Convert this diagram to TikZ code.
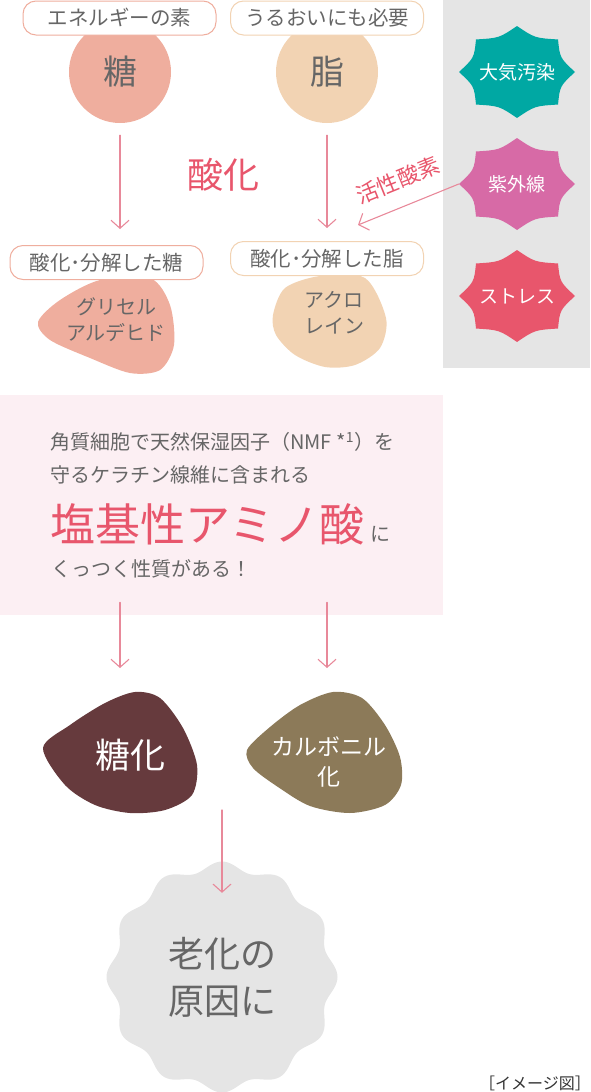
\documentclass[tikz,border=0pt]{standalone}
\usepackage{fontspec}
\setmainfont{Noto Sans CJK JP}
\usepackage{tikz}
\usetikzlibrary{arrows.meta}

\definecolor{sugarcol}{HTML}{EFAE9E}
\definecolor{fatcol}{HTML}{F2D3B3}
\definecolor{txtgray}{HTML}{666666}
\definecolor{oxred}{HTML}{E8566C}
\definecolor{arrpink}{HTML}{E8899A}
\definecolor{panelgray}{HTML}{E5E5E5}
\definecolor{panelpink}{HTML}{FCEFF3}
\definecolor{aircol}{HTML}{00A8A3}
\definecolor{uvcol}{HTML}{D76AA6}
\definecolor{stresscol}{HTML}{E8566C}
\definecolor{tokacol}{HTML}{663A3D}
\definecolor{carbcol}{HTML}{8C7A59}
\definecolor{notegray}{HTML}{333333}

% spiky burst: centre x, centre y, colour
\newcommand{\burst}[3]{%
  \fill[#3] ({#1+58},#2)
    \foreach \a in {45,90,...,360}{
      .. controls ({#1+0.8*58*cos(\a-22.5)},{#2+0.8*46*sin(\a-22.5)}) .. ({#1+58*cos(\a)},{#2+46*sin(\a)})
    } -- cycle;}

\begin{document}
\begin{tikzpicture}[x=1pt,y=-1pt,line cap=round,line join=round,
  arr/.style={draw=arrpink,line width=1.1pt,-{Straight Barb[length=8pt,width=18pt]}},
  tag/.style={draw,rounded corners=13pt,fill=white,line width=1pt,minimum width=193pt,minimum height=34pt,inner sep=0pt,text=txtgray,font=\fontsize{20.5}{24}\selectfont},
  bubble/.style={circle,minimum size=102pt,inner sep=0pt,text=txtgray,font=\fontsize{34}{40}\selectfont},
  blobtxt/.style={align=center,inner sep=0pt,font=\fontsize{20}{26}\selectfont},
  burstnode/.style={minimum width=116pt,minimum height=92pt,inner sep=0pt,text=white,font=\fontsize{19}{22}\selectfont},
  txtline/.style={anchor=west,inner sep=0pt,text=txtgray,font=\fontsize{20}{24}\selectfont}]
\useasboundingbox (0,0) rectangle (590,1092);
\clip (0,0) rectangle (590,1092);

% causes
\fill[panelgray] (443,0) rectangle (590,368);
\burst{517}{72}{aircol}
\burst{517}{184}{uvcol}
\burst{517}{296}{stresscol}
\node[burstnode] (air) at (517,72) {大気汚染};
\node[burstnode] (uv) at (517,184) {紫外線};
\node[burstnode] (stress) at (517,296) {ストレス};

% sugar and fat
\node[bubble,fill=sugarcol] (sugar) at (120,72) {糖};
\node[bubble,fill=fatcol] (fat) at (327,72) {脂};
\node[tag,draw=sugarcol] (sugarTag) at (119.5,18) {エネルギーの素};
\node[tag,draw=fatcol] (fatTag) at (327,18) {うるおいにも必要};

\node[text=oxred,inner sep=0pt,font=\fontsize{36}{40}\selectfont] (ox) at (223,175) {酸化};
\node[rotate=22,text=oxred,inner sep=0pt,font=\fontsize{22}{24}\selectfont] (ros) at (398,180) {活性酸素};
\coordinate (uvTip) at (358,225);

% oxidised products
\fill[sugarcol] plot[smooth cycle] coordinates {(38,322) (60,300) (100,280) (150,278) (170,305) (174,345) (160,370) (130,373) (90,358) (50,340)};
\fill[fatcol] plot[smooth cycle] coordinates {(273,315) (285,288) (320,276) (365,278) (386,318) (380,348) (355,365) (325,367) (295,355) (276,335)};
\node[tag,draw=sugarcol] (sugarOx) at (106.5,262.5) {酸化･分解した糖};
\node[tag,draw=fatcol] (fatOx) at (327,258.5) {酸化･分解した脂};
\node[blobtxt,text=txtgray] (glyc) at (116,320) {グリセル\\アルデヒド};
\node[blobtxt,text=txtgray] (acro) at (334,313) {アクロ\\レイン};

\draw[arr,shorten <=12pt,shorten >=16pt] (sugar) -- (sugar |- sugarOx.north);
\draw[arr,shorten <=12pt,shorten >=13pt] (fat) -- (fatOx);
\draw[arr] (uv.west) -- (uvTip);

% amino acid panel
\node[fill=panelpink,minimum width=443pt,minimum height=220pt,inner sep=0pt,anchor=north west] (pinkbox) at (0,395) {};
\node[txtline] (l1) at (50,442) {角質細胞で天然保湿因子（NMF *\textsuperscript{1}）を};
\node[txtline] (l2) at (50,475) {守るケラチン線維に含まれる};
\node[anchor=base west,inner sep=0pt,text=oxred,font=\fontsize{45}{48}\selectfont] (amino) at (50,541) {塩基性アミノ酸};
\node[anchor=base west,inner sep=0pt,text=txtgray,font=\fontsize{20}{24}\selectfont,xshift=6pt] (ni) at (amino.base east) {に};
\node[txtline] (l4) at (51,569) {くっつく性質がある！};

% results
\fill[tokacol] plot[smooth cycle] coordinates {(43,748) (70,725) (105,703) (135,692) (160,698) (183,728) (197,765) (192,795) (165,810) (130,813) (95,805) (65,785)};
\fill[carbcol] plot[smooth cycle] coordinates {(247,750) (270,727) (300,705) (333,692) (362,698) (385,725) (400,757) (401,785) (385,805) (350,813) (310,806) (278,787) (253,768)};
\node[inner sep=0pt,text=white,font=\fontsize{35}{40}\selectfont] (toka) at (130,755) {糖化};
\node[align=center,inner sep=0pt,text=white,font=\fontsize{23}{30}\selectfont] (carb) at (329,762) {カルボニル\\化};
\coordinate (tokaTop) at (120,692);
\coordinate (carbTop) at (327,692);
\draw[arr,shorten <=-13pt,shorten >=24pt] (pinkbox.south -| sugar) -- (tokaTop);
\draw[arr,shorten <=-13pt,shorten >=24pt] (pinkbox.south -| fat) -- (carbTop);

% ageing
\fill[panelgray] plot[domain=0:360,samples=241,variable=\t] ({222+(111+4.5*cos(12*\t))*cos(\t)},{977+(111+4.5*cos(12*\t))*sin(\t)}) -- cycle;
\node[circle,minimum size=230pt,align=center,inner sep=0pt,text=txtgray,font=\fontsize{36}{47}\selectfont] (aging) at (222,977) {老化の\\原因に};
\coordinate (join) at (222,810);
\draw[arr,shorten >=-31pt] (join) -- (aging);

\node[anchor=south east,inner sep=0pt,text=notegray,font=\fontsize{16}{18}\selectfont] (note) at (591,1091) {［イメージ図］};
\end{tikzpicture}
\end{document}
